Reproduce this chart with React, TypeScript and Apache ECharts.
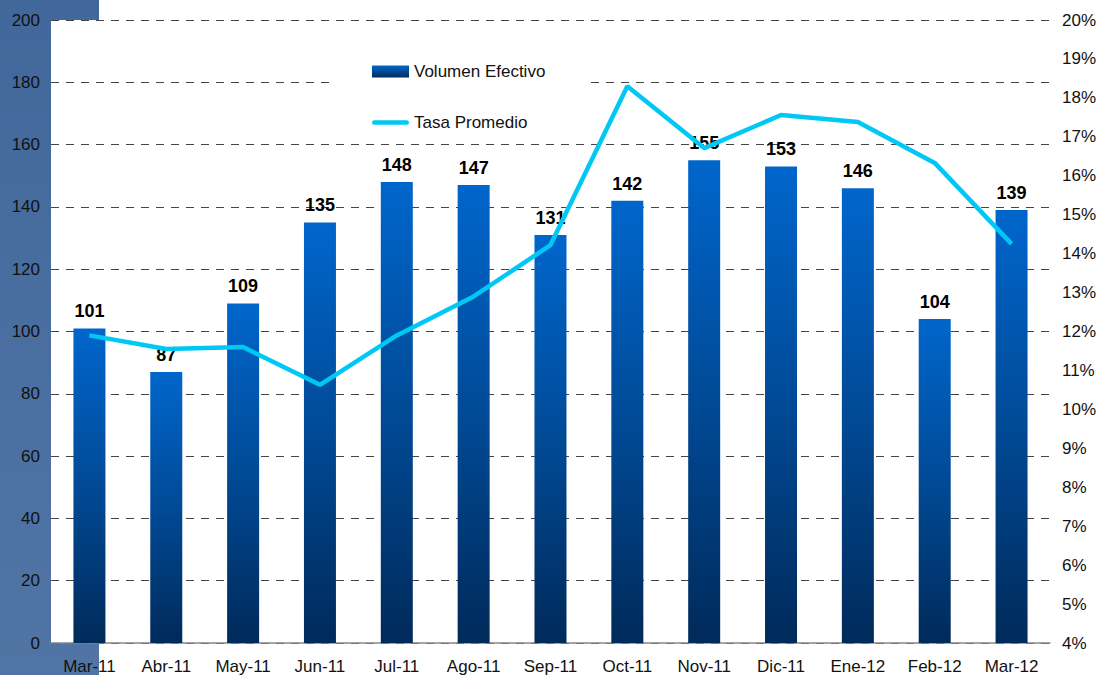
import React, { useEffect, useRef } from "react";
import * as echarts from "echarts";

const categories = ["Mar-11", "Abr-11", "May-11", "Jun-11", "Jul-11", "Ago-11", "Sep-11", "Oct-11", "Nov-11", "Dic-11", "Ene-12", "Feb-12", "Mar-12"];
const volumen = [101, 87, 109, 135, 148, 147, 131, 142, 155, 153, 146, 104, 139];
const tasa = [11.9, 11.55, 11.6, 10.63, 11.9, 12.9, 14.22, 18.3, 16.71, 17.56, 17.38, 16.33, 14.25];

const FONT = "'Liberation Sans', Arial, sans-serif";

export default function App() {
  const ref = useRef<HTMLDivElement>(null);
  useEffect(() => {
    if (!ref.current) return;
    const chart = echarts.init(ref.current, undefined, { renderer: "svg" });
    const barGrad = new echarts.graphic.LinearGradient(0, 0, 0, 1, [
      { offset: 0, color: "#0066cc" },
      { offset: 0.5, color: "#004a96" },
      { offset: 1, color: "#002a5a" },
    ]);
    chart.setOption({
      animation: false,
      backgroundColor: "#ffffff",
      textStyle: { fontFamily: FONT },
      graphic: [
        {
          type: "rect",
          z: -10,
          shape: { x: 0, y: 0, width: 99, height: 675 },
          style: {
            fill: new echarts.graphic.LinearGradient(0, 0, 0, 1, [
              { offset: 0, color: "#42679a" },
              { offset: 1, color: "#5075a5" },
            ]),
          },
        },
        {
          type: "rect",
          z: -9,
          shape: { x: 51, y: 20, width: 999, height: 623 },
          style: { fill: "#ffffff" },
        },
        {
          type: "rect",
          z: 100,
          shape: { x: 332, y: 52, width: 256, height: 84 },
          style: { fill: "#ffffff" },
        },
      ],
      grid: { left: 51, right: 49, top: 20, bottom: 32, containLabel: false },
      legend: {
        orient: "vertical",
        left: 372,
        top: 63,
        padding: 0,
        itemGap: 34,
        itemWidth: 37,
        itemHeight: 12,
        itemTextGap: 3,
        textStyle: { fontSize: 17, color: "#111", fontFamily: FONT },
        data: [
          { name: "Volumen Efectivo", icon: "rect" },
          { name: "Tasa Promedio", icon: "path://M2,0 H36 A2,2 0 0 1 36,5 H2 A2,2 0 0 1 2,0 Z" },
        ],
        z: 200,
      },
      xAxis: {
        type: "category",
        data: categories,
        axisLine: { lineStyle: { color: "#888", width: 1.5 } },
        axisTick: { show: false },
        axisLabel: { fontSize: 17, color: "#111", margin: 15, fontFamily: FONT },
      },
      yAxis: [
        {
          type: "value",
          min: 0,
          max: 200,
          interval: 20,
          axisLine: { show: false },
          axisTick: { show: false },
          axisLabel: { fontSize: 17, color: "#111", margin: 11, fontFamily: FONT },
          splitLine: { lineStyle: { color: "#444", type: [8, 7], width: 1 } },
        },
        {
          type: "value",
          min: 4,
          max: 20,
          interval: 1,
          axisLine: { show: false },
          axisTick: { show: false },
          axisLabel: { fontSize: 17, color: "#111", margin: 12, formatter: "{value}%", fontFamily: FONT },
          splitLine: { show: false },
        },
      ],
      series: [
        {
          name: "Volumen Efectivo",
          type: "bar",
          data: volumen,
          barWidth: 32,
          itemStyle: { color: barGrad },
          label: {
            show: true,
            position: "top",
            distance: 8,
            fontSize: 18,
            fontWeight: "bold",
            color: "#000",
            fontFamily: FONT,
          },
          z: 2,
        },
        {
          name: "Tasa Promedio",
          type: "line",
          yAxisIndex: 1,
          data: tasa,
          symbol: "none",
          lineStyle: { color: "#00c8f5", width: 4.5 },
          itemStyle: { color: "#00c8f5" },
          z: 3,
        },
      ],
    });
    return () => chart.dispose();
  }, []);
  return <div ref={ref} style={{ width: 1099, height: 675, position: "absolute", left: 0, top: 0 }} />;
}
